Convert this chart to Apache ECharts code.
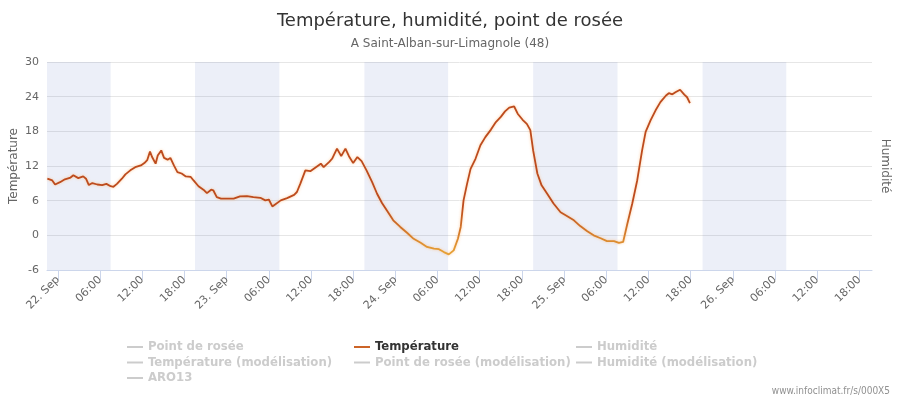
<!DOCTYPE html>
<html>
<head>
<meta charset="utf-8">
<script src="https://cdn.jsdelivr.net/npm/echarts@6/dist/echarts.min.js"></script>
<style>
html,body{margin:0;padding:0;background:#fff;}
#main{width:900px;height:400px;}
</style>
</head>
<body>
<div id="main"></div>
<script>
// hours since 22 Sep 00:00
var heures = [-1.5,-0.8,-0.4,0.3,1.0,1.8,2.2,2.9,3.6,4.0,4.4,4.9,5.6,6.3,6.9,7.5,7.9,8.4,9.1,9.6,
	10.3,11.0,11.8,12.3,12.7,13.1,13.4,13.9,14.2,14.7,15.1,15.6,16.0,16.5,17.0,17.6,18.2,18.9,19.3,20.0,
	20.7,21.2,21.8,22.1,22.6,23.2,24.0,25.0,25.9,26.9,27.8,28.8,29.5,30.0,30.5,30.9,31.7,32.6,33.6,34.0,
	34.5,35.2,35.9,36.7,37.4,37.8,38.6,39.0,39.7,40.3,40.9,41.4,42.0,42.6,43.2,43.9,44.7,45.4,46.1,46.8,
	47.7,48.7,49.7,50.6,51.6,52.5,53.5,54.2,54.9,55.6,56.3,56.9,57.3,57.7,58.2,58.7,59.4,60.1,60.8,61.6,
	62.3,63.0,63.6,64.2,64.9,65.4,66.1,66.7,67.2,67.6,68.2,68.8,69.6,70.5,71.5,72.4,73.4,74.3,75.3,76.2,
	77.2,78.1,79.1,79.8,80.4,81.0,81.7,82.4,83.1,83.6,84.3,85.0,85.7,86.5,86.9,87.4,87.9,88.5,89.1,89.5,89.9];
var temperature = [9.8,9.5,8.8,9.2,9.7,10.0,10.4,9.9,10.2,9.8,8.7,9.05,8.8,8.7,8.9,8.5,8.4,8.9,9.8,10.55,
	11.25,11.8,12.1,12.5,13.0,14.5,13.55,12.4,13.8,14.7,13.4,13.1,13.4,12.1,10.95,10.7,10.2,10.1,9.5,8.5,
	7.9,7.3,7.9,7.8,6.6,6.35,6.35,6.35,6.75,6.8,6.6,6.5,6.05,6.2,5.0,5.35,6.05,6.45,7.0,7.5,
	9.0,11.25,11.1,11.8,12.4,11.8,12.7,13.25,15.0,13.7,15.0,13.7,12.5,13.55,12.85,11.25,9.2,7.2,5.6,4.3,
	2.6,1.45,0.4,-0.6,-1.3,-2.0,-2.3,-2.4,-2.9,-3.3,-2.6,-0.6,1.45,6.05,8.9,11.5,13.25,15.6,17.0,18.3,
	19.6,20.5,21.45,22.1,22.3,21.05,20.0,19.3,18.2,14.7,10.7,8.65,7.2,5.5,4.0,3.35,2.6,1.6,0.7,0.0,
	-0.5,-1.0,-1.0,-1.3,-1.15,2.0,5.5,9.5,14.7,17.9,19.9,21.6,23.05,24.2,24.6,24.4,24.8,25.2,24.35,23.9,22.9];
// nights (hours)
var nuits = [[-1.55,7.5],[19.5,31.5],[43.6,55.5],[67.6,79.6],[91.7,103.6]];
var ticks = [0,6,12,18,24,30,36,42,48,54,60,66,72,78,84,90,96,102,108,114];
var jours = ['22. Sep','23. Sep','24. Sep','25. Sep','26. Sep'];
var colonne1 = ['Point de rosée','Température (modélisation)','ARO13'];
var colonne2 = ['Température','Point de rosée (modélisation)'];
var colonne3 = ['Humidité','Humidité (modélisation)'];

var font = 'DejaVu Sans';
var fontLeg = '"DejaVu Sans Condensed","Liberation Sans Narrow",sans-serif';

var points = [];
for (var i = 0; i < heures.length; i++) {
	points.push([heures[i], temperature[i]]);
}
var bandes = [];
for (var j = 0; j < nuits.length; j++) {
	bandes.push([{xAxis: nuits[j][0]}, {xAxis: nuits[j][1]}]);
}

function etiquette(v) {
	var h = Math.round(v);
	if (h % 24 === 0) return jours[h / 24];
	var r = h % 24;
	return (r < 10 ? '0' : '') + r + ':00';
}

function legende(left, noms) {
	var sel = {};
	var data = [];
	for (var k = 0; k < noms.length; k++) {
		sel[noms[k]] = noms[k] === 'Température';
		if (noms[k] === 'Température') {
			data.push({name: noms[k], itemStyle: {color: '#cc6428'},
				textStyle: {color: '#333'}});
		} else {
			data.push({name: noms[k]});
		}
	}
	return {
		orient: 'vertical', left: left, top: 335,
		icon: 'rect', itemWidth: 16, itemHeight: 2, itemGap: 1.5,
		inactiveColor: '#cccccc', inactiveBorderColor: '#cccccc',
		textStyle: {fontFamily: fontLeg, fontSize: 13, fontWeight: 'bold', color: '#333', lineHeight: 14},
		selected: sel, data: data
	};
}

var vides = colonne1.concat(colonne2, colonne3).filter(function(n){ return n !== 'Température'; });
var series = [{
	name: 'Température', type: 'line', data: points, showSymbol: false,
	lineStyle: {width: 1.8, shadowColor: 'rgba(255,170,90,0.6)', shadowBlur: 3},
	markArea: {silent: true, itemStyle: {color: 'rgba(68,102,187,0.1)'}, data: bandes},
	z: 3
}];
for (var s = 0; s < vides.length; s++) {
	series.push({name: vides[s], type: 'line', data: [], showSymbol: false,
		itemStyle: {color: '#cccccc'}});
}

var chart = echarts.init(document.getElementById('main'));
chart.setOption({
	animation: false,
	title: {
		text: 'Température, humidité, point de rosée',
		subtext: 'A Saint-Alban-sur-Limagnole (48)',
		left: 'center', top: 7, itemGap: 8,
		textStyle: {fontFamily: font, fontSize: 18, fontWeight: 'normal', color: '#333'},
		subtextStyle: {fontFamily: font, fontSize: 12, color: '#666'}
	},
	legend: [legende(122, colonne1), legende(349, colonne2), legende(571, colonne3)],
	visualMap: {
		show: false, type: 'continuous', seriesIndex: 0, dimension: 1,
		min: -3, max: 5, inRange: {color: ['#e6a035', '#bd4b1d']}
	},
	grid: {left: 47, right: 28, top: 62, bottom: 130, outerBoundsMode: 'none'},
	xAxis: {
		type: 'value', min: -1.55, max: 115.8,
		axisLine: {onZero: false, lineStyle: {color: '#ccd6eb'}},
		axisTick: {show: true, length: 10, customValues: ticks, lineStyle: {color: '#ccd6eb'}},
		axisLabel: {customValues: ticks, rotate: 45, margin: 8, color: '#666',
			fontFamily: font, fontSize: 11, formatter: etiquette},
		splitLine: {show: false}
	},
	yAxis: [{
		type: 'value', min: -6, max: 30, interval: 6,
		axisLine: {show: false}, axisTick: {show: false},
		axisLabel: {color: '#666', fontFamily: font, fontSize: 11, margin: 8},
		splitLine: {lineStyle: {color: '#e6e6e6'}}
	}, {
		type: 'value', min: 0, max: 100, position: 'right',
		name: 'Humidité', nameLocation: 'middle', nameGap: 7, nameRotate: -90,
		nameTextStyle: {fontFamily: font, fontSize: 12, color: '#666'},
		axisLine: {show: false}, axisTick: {show: false}, axisLabel: {show: false},
		splitLine: {show: false}
	}],
	graphic: [{
		// y axis title, placed by hand
		type: 'text', x: 14, y: 166, rotation: Math.PI / 2,
		style: {text: 'Température', fill: '#666', fontFamily: font, fontSize: 12,
			align: 'center', verticalAlign: 'middle'}
	}, {
		type: 'text', right: 10, bottom: 4,
		style: {text: 'www.infoclimat.fr/s/000X5', fill: '#909090', fontFamily: fontLeg, fontSize: 10}
	}],
	series: series
});
</script>
</body>
</html>
